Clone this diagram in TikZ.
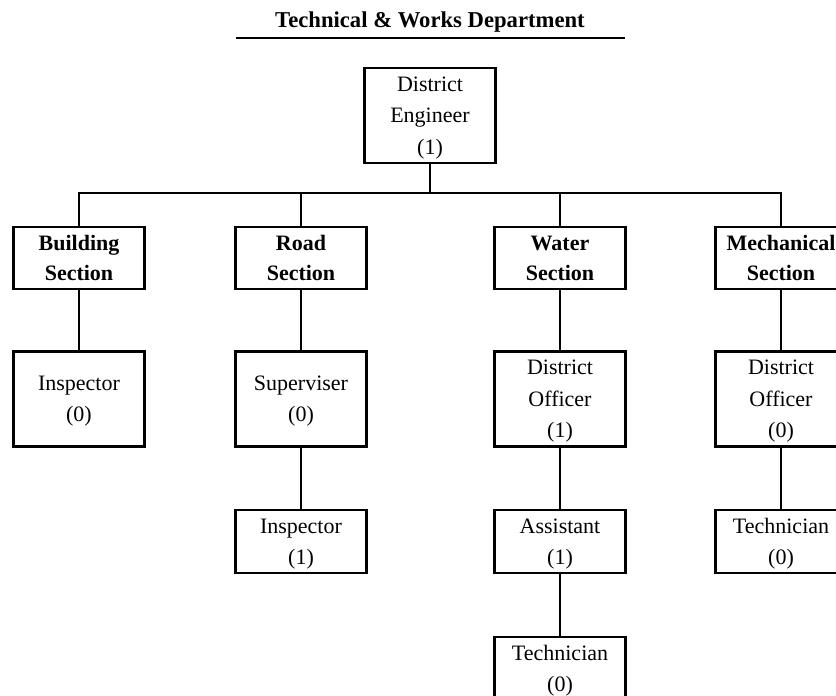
\documentclass[tikz,border=0pt]{standalone}
\usepackage{fontspec}
\setmainfont{Liberation Serif}

\begin{document}
\begin{tikzpicture}
[x=0.75pt, y=-0.75pt, line width=1.9pt,
 head/.style={font={\fontsize{17}{20}\selectfont\bfseries}},
 post/.style={draw,rectangle,align=center,inner sep=0pt,
   minimum width=98.25pt,font={\fontsize{16.5}{23.5}\selectfont}},
 tall/.style={post,minimum height=71.25pt,text depth=-2.4pt},
 short/.style={post,minimum height=47.25pt,text depth=-1pt},
 section/.style={post,minimum height=46.5pt,text depth=-4pt,
   font={\fontsize{16.5}{22.5}\selectfont\bfseries}}]
\useasboundingbox (0,0) rectangle (836,696);
\clip (0,0) rectangle (836,696);

% heading
\node (title) at (430,22) [head] {Technical \& Works Department};
\coordinate (ruleL) at (236,38);
\coordinate (ruleR) at (625,38);
\draw (ruleL) -- (ruleR);

\node (eng) at (430,115.5) [tall] {District\\Engineer\\(1)};
\coordinate (bus) at (430,193);

\node (build) at (79,258) [section] {Building\\Section};
\node (road) at (301,258) [section] {Road\\Section};
\node (water) at (560,258) [section] {Water\\Section};
\node (mech) at (781,258) [section] {Mechanical\\Section};

\node (binsp) at (79,399) [tall] {Inspector\\(0)};
\node (super) at (301,399) [tall] {Superviser\\(0)};
\node (woff) at (560,399) [tall] {District\\Officer\\(1)};
\node (moff) at (781,399) [tall] {District\\Officer\\(0)};

\node (rinsp) at (301,541.5) [short] {Inspector\\(1)};
\node (assist) at (560,541.5) [short] {Assistant\\(1)};
\node (mtech) at (781,541.5) [short] {Technician\\(0)};

\node (wtech) at (560,668.5) [short] {Technician\\(0)};

% bus to the four sections
\draw (eng) -- (bus);
\draw (build) |- (bus) -| (mech);
\draw (road) -- (road |- bus);
\draw (water) -- (water |- bus);

\draw (build) -- (binsp);
\draw (road) -- (super);
\draw (super) -- (rinsp);
\draw (water) -- (woff);
\draw (woff) -- (assist);
\draw (assist) -- (wtech);
\draw (mech) -- (moff);
\draw (moff) -- (mtech);
\end{tikzpicture}
\end{document}
